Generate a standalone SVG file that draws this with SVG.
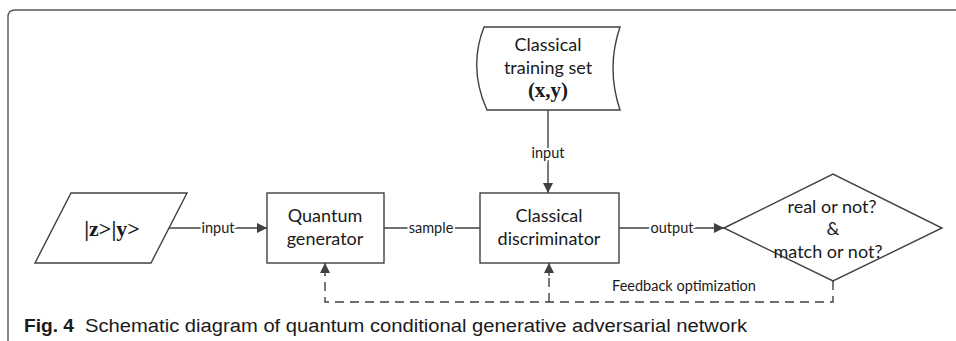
<svg xmlns="http://www.w3.org/2000/svg" width="956" height="341" viewBox="0 0 956 341">
  <style>
    .shape { fill: #ffffff; stroke: #404040; stroke-width: 1.4; }
    .wire { fill: none; stroke: #404040; stroke-width: 1.4; }
    .dash { fill: none; stroke: #404040; stroke-width: 1.4; stroke-dasharray: 9 6; }
    .txt { font-family: Lato, "Liberation Sans", sans-serif; font-size: 18px; fill: #1a1a1a; text-anchor: middle; }
    .math { font-family: "Liberation Serif", serif; font-weight: bold; fill: #1a1a1a; text-anchor: middle; }
    .lbl { font-family: Lato, "Liberation Sans", sans-serif; font-size: 14.5px; fill: #1a1a1a; text-anchor: middle; paint-order: stroke; stroke: #ffffff; stroke-width: 4px; }
    .cap { font-family: "Liberation Sans", sans-serif; font-size: 18px; fill: #1a1a1a; }
  </style>
  <defs>
    <marker id="arrow" viewBox="0 0 10 10" refX="10" refY="5" markerWidth="11" markerHeight="10" markerUnits="userSpaceOnUse" orient="auto">
      <path d="M0,0 L10,5 L0,10 Z" fill="#404040"/>
    </marker>
  </defs>

  <rect width="956" height="341" fill="#ffffff"/>

  <!-- outer frame, open to the right and bottom -->
  <path d="M8,345 L8,17 Q8,10 15,10 L960,10" fill="none" stroke="#555555" stroke-width="1.4"/>

  <!-- connectors -->
  <g id="connectors">
    <line class="wire" x1="169" y1="228" x2="267" y2="228" marker-end="url(#arrow)"/>
    <text class="lbl" x="218" y="233">input</text>

    <line class="wire" x1="384" y1="228" x2="480" y2="228"/>
    <text class="lbl" x="431" y="233">sample</text>

    <line class="wire" x1="548" y1="110" x2="548" y2="193" marker-end="url(#arrow)"/>
    <text class="lbl" x="548" y="158">input</text>

    <line class="wire" x1="619" y1="228" x2="724" y2="228" marker-end="url(#arrow)"/>
    <text class="lbl" x="672" y="233">output</text>

    <!-- feedback loop -->
    <polyline class="dash" points="833,281 833,302 325,302 325,275"/>
    <line class="wire" x1="325" y1="276" x2="325" y2="263" marker-end="url(#arrow)"/>
    <line class="dash" x1="549" y1="302" x2="549" y2="275"/>
    <line class="wire" x1="549" y1="276" x2="549" y2="263" marker-end="url(#arrow)"/>
    <text class="lbl" x="684" y="291">Feedback optimization</text>
  </g>

  <!-- input state -->
  <g id="state">
    <polygon class="shape" points="71,193 187,193 151,263 35,263"/>
    <text class="math" x="112" y="236" font-size="22">|z&gt;|y&gt;</text>
  </g>

  <!-- training data store -->
  <g id="training-set">
    <path class="shape" d="M484,27 L620,27 Q606,68 620,110 L487,110 Q468,68 484,27 Z"/>
    <text class="txt" x="548" y="51">Classical</text>
    <text class="txt" x="548" y="74">training set</text>
    <text class="math" x="548" y="97" font-size="21">(x,y)</text>
  </g>

  <!-- generator -->
  <g id="generator">
    <rect class="shape" x="267" y="193" width="117" height="70"/>
    <text class="txt" x="325" y="222">Quantum</text>
    <text class="txt" x="325" y="245">generator</text>
  </g>

  <!-- discriminator -->
  <g id="discriminator">
    <rect class="shape" x="480" y="193" width="139" height="70"/>
    <text class="txt" x="549" y="222">Classical</text>
    <text class="txt" x="549" y="245">discriminator</text>
  </g>

  <!-- decision -->
  <g id="decision">
    <polygon class="shape" points="724,228 833,174 942,228 833,281"/>
    <text class="txt" x="832" y="213">real or not?</text>
    <text class="txt" x="833" y="235">&amp;</text>
    <text class="txt" x="828" y="258">match or not?</text>
  </g>

  <!-- caption -->
  <text class="cap" x="24" y="332"><tspan font-weight="bold" textLength="50" lengthAdjust="spacingAndGlyphs">Fig. 4</tspan><tspan x="85" textLength="662" lengthAdjust="spacingAndGlyphs">Schematic diagram of quantum conditional generative adversarial network</tspan></text>
</svg>
